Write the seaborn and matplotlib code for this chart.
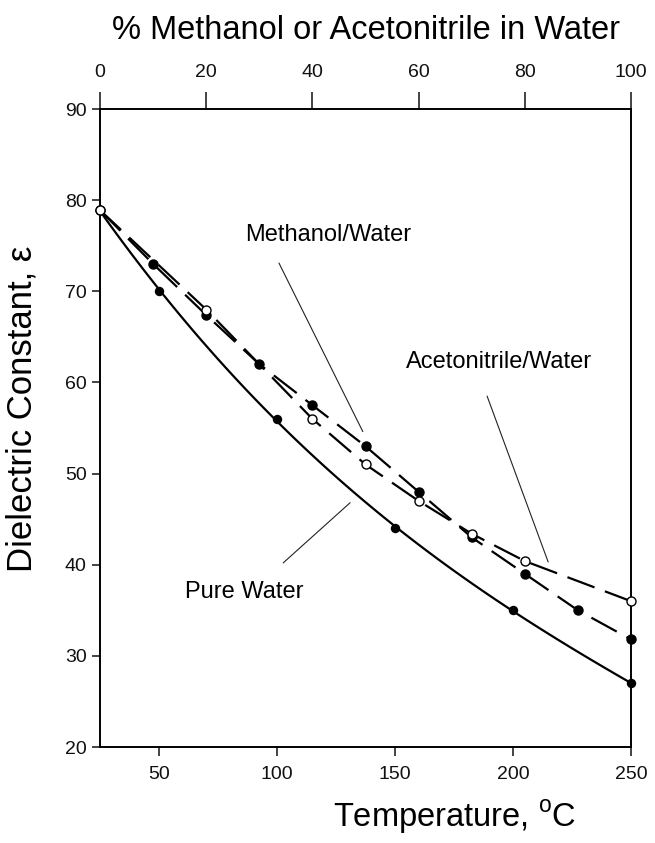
import matplotlib
matplotlib.use("Agg")
import matplotlib.pyplot as plt
import seaborn as sns

# pure water, dielectric constant vs temperature (deg C)
temp_c = [25, 50, 100, 150, 200, 250]
eps_water = [78.9, 70.0, 56.0, 44.0, 35.0, 27.0]

# methanol/water at 25 C vs % organic
meoh_pct = [0, 10, 20, 30, 40, 50, 60, 70, 80, 90, 100]
eps_meoh = [78.9, 73.0, 67.4, 62.0, 57.5, 53.0, 48.0, 43.0, 39.0, 35.0, 31.8]

# acetonitrile/water at 25 C vs % organic
acn_pct = [0, 20, 40, 50, 60, 70, 80, 100]
eps_acn = [78.9, 68.0, 56.0, 51.0, 47.0, 43.4, 40.4, 36.0]

temp_ticks = [50, 100, 150, 200, 250]
pct_ticks = [0, 20, 40, 60, 80, 100]
eps_ticks = [20, 30, 40, 50, 60, 70, 80, 90]

sns.set_style("ticks")
plt.rcParams['font.family'] = ['Liberation Sans', 'DejaVu Sans']
plt.rcParams['mathtext.fontset'] = 'custom'
plt.rcParams['mathtext.rm'] = 'Liberation Sans'
plt.rcParams['text.color'] = 'black'
plt.rcParams['axes.labelcolor'] = 'black'

fig = plt.figure(figsize=(6.55, 8.43), dpi=100)
ax = fig.add_axes([100 / 655, 1 - 747 / 843, 531 / 655, 638 / 843])
ax_top = ax.twiny()

# pure water: smooth curve through the points
sns.regplot(x=temp_c, y=eps_water, order=3, ci=None, ax=ax, color='black',
            scatter_kws=dict(s=46, zorder=3, linewidths=0, alpha=1, clip_on=False),
            line_kws=dict(lw=1.6))

# mixtures on the composition axis
sns.lineplot(x=meoh_pct, y=eps_meoh, ax=ax_top, color='black', lw=1.6,
             marker='o', markersize=6.5, markerfacecolor='black',
             markeredgecolor='black', markeredgewidth=1, clip_on=False)
ax_top.lines[-1].set_dashes((13, 5))
sns.lineplot(x=acn_pct, y=eps_acn, ax=ax_top, color='black', lw=1.6,
             marker='o', markersize=6.5, markerfacecolor='white',
             markeredgecolor='black', markeredgewidth=1, zorder=4, clip_on=False)
ax_top.lines[-1].set_dashes((13, 5))

ax.set_xlim(25, 250)
ax.set_ylim(20, 90)
ax_top.set_xlim(0, 100)
ax.set_xticks(temp_ticks)
ax.set_yticks(eps_ticks)
ax_top.set_xticks(pct_ticks)

for a in (ax, ax_top):
    for sp in a.spines.values():
        sp.set_color('black')
        sp.set_linewidth(1.2)
ax.tick_params(axis='x', direction='out', length=6.5, width=1.1,
               labelsize=14, colors='#111111', pad=7)
ax.tick_params(axis='y', direction='out', length=6, width=1.1,
               labelsize=14, colors='#111111')
ax_top.tick_params(axis='x', direction='out', length=12, width=1.1,
                   labelsize=14, colors='#111111', pad=8)

# annotations
ann = dict(arrowstyle='-', lw=0.8, color='#222222', shrinkA=0, shrinkB=0)
ax_top.text(27.3, 76.2, 'Methanol/Water', fontsize=17, va='center', ha='left')
ax_top.annotate('', xy=(49.5, 54.6), xytext=(33.7, 73.1), arrowprops=ann)
ax_top.text(57.6, 62.2, 'Acetonitrile/Water', fontsize=17, va='center', ha='left')
ax_top.annotate('', xy=(84.4, 40.3), xytext=(72.9, 58.5), arrowprops=ann)
ax_top.text(16.0, 37.0, 'Pure Water', fontsize=17, va='center', ha='left')
ax_top.annotate('', xy=(47.1, 46.8), xytext=(34.5, 40.2), arrowprops=ann)

ax_top.set_xlabel('% Methanol or Acetonitrile in Water', fontsize=23.5, labelpad=18)
ax.set_xlabel('Temperature, $^{\\rm o}$C', fontsize=23.5)
ax.xaxis.set_label_coords(0.667, -0.08)
ax.set_ylabel('Dielectric Constant, ε', fontsize=25)
ax.yaxis.set_label_coords(-0.115, 0.53)

fig.savefig('out.png', dpi=100)
